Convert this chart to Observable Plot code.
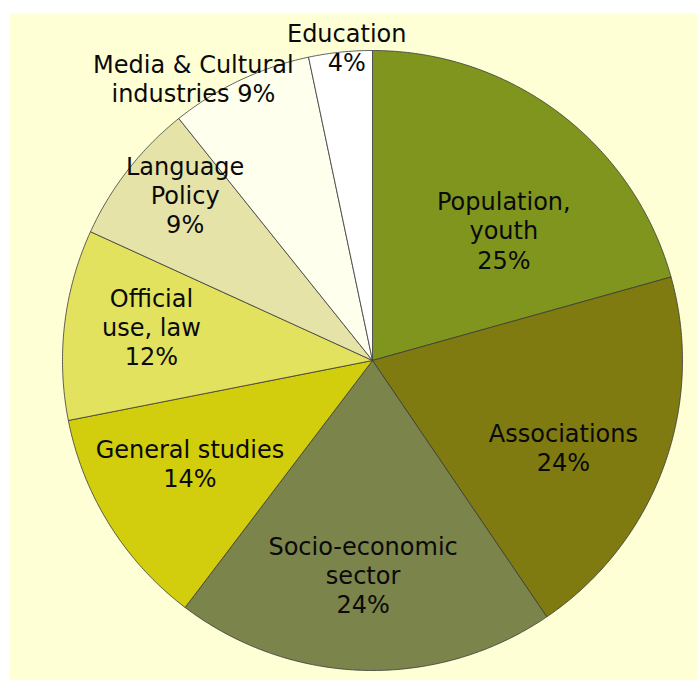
<!DOCTYPE html>
<html>
<head>
<meta charset="utf-8">
<script src="https://cdn.jsdelivr.net/npm/d3@7"></script>
<script src="https://cdn.jsdelivr.net/npm/@observablehq/plot@0.6"></script>
<style>
  html, body { margin: 0; padding: 0; background: #ffffff; }
  #chart svg { display: block; }
</style>
</head>
<body>
<div id="chart"></div>
<script>
// ---- data ----
const categories = ["Population, youth", "Associations", "Socio-economic sector", "General studies",
  "Official use, law", "Language Policy", "Media & Cultural industries", "Education"];
const values = [25, 24, 24, 14, 12, 9, 9, 4];
const labelText = ["Population,\nyouth\n25%", "Associations\n24%", "Socio-economic\nsector\n24%",
  "General studies\n14%", "Official\nuse, law\n12%", "Language\nPolicy\n9%",
  "Media & Cultural\nindustries 9%", "Education\n4%"];
const colors = ["#7f951e", "#7f7b10", "#7b844a", "#d2ce0e", "#e3e25e", "#e5e3a8", "#ffffee", "#ffffff"];

// ---- layout ----
const W = 697, H = 680, padLeft = 9, padTop = 13;
const R = 310, cx = 372, cy = 360;
const labelRadius = [0.59, 0.68, 0.70, 0.68, 0.72, 0.80, 1.07, 1.005];
const labelTurn = [8.7, 5, 1, 2, 1.3, 3, -7.4, 1.2]; // degrees

const total = d3.sum(values);
const rad = Math.PI / 180;
let acc = 0;
const slices = values.map((v, i) => {
  const a0 = acc / total * 360; acc += v;
  const a1 = acc / total * 360;
  return {category: categories[i], a0, a1, mid: (a0 + a1) / 2, i};
});

const poly = [];
for (const s of slices) {
  poly.push({category: s.category, x: 0, y: 0});
  const n = Math.max(2, Math.ceil((s.a1 - s.a0) * 2));
  for (let k = 0; k <= n; k++) {
    const a = (s.a0 + (s.a1 - s.a0) * k / n) * rad;
    poly.push({category: s.category, x: Math.sin(a), y: Math.cos(a)});
  }
  poly.push({category: s.category, x: 0, y: 0});
}

const labels = slices.map(s => {
  const a = (s.mid + labelTurn[s.i]) * rad, r = labelRadius[s.i];
  return {text: labelText[s.i], x: r * Math.sin(a), y: r * Math.cos(a)};
});

const chart = Plot.plot({
  width: W, height: H,
  marginLeft: padLeft, marginTop: padTop, marginRight: 0, marginBottom: 0,
  x: {domain: [(padLeft - cx) / R, (W - cx) / R], axis: null},
  y: {domain: [(cy - H) / R, (cy - padTop) / R], axis: null},
  color: {domain: categories, range: colors},
  style: {fontFamily: "'DejaVu Sans', Verdana, sans-serif", background: "#ffffff"},
  marks: [
    Plot.frame({fill: "#ffffd6", stroke: "none"}),
    Plot.line(poly, {x: "x", y: "y", z: "category", fill: "category", stroke: "#3a3a3a", strokeWidth: 0.8}),
    Plot.text(labels, {x: "x", y: "y", text: "text", fontSize: 24, lineHeight: 1.21, dy: -3, fill: "#0a0a0a"})
  ]
});
document.getElementById("chart").appendChild(chart);
</script>
</body>
</html>
